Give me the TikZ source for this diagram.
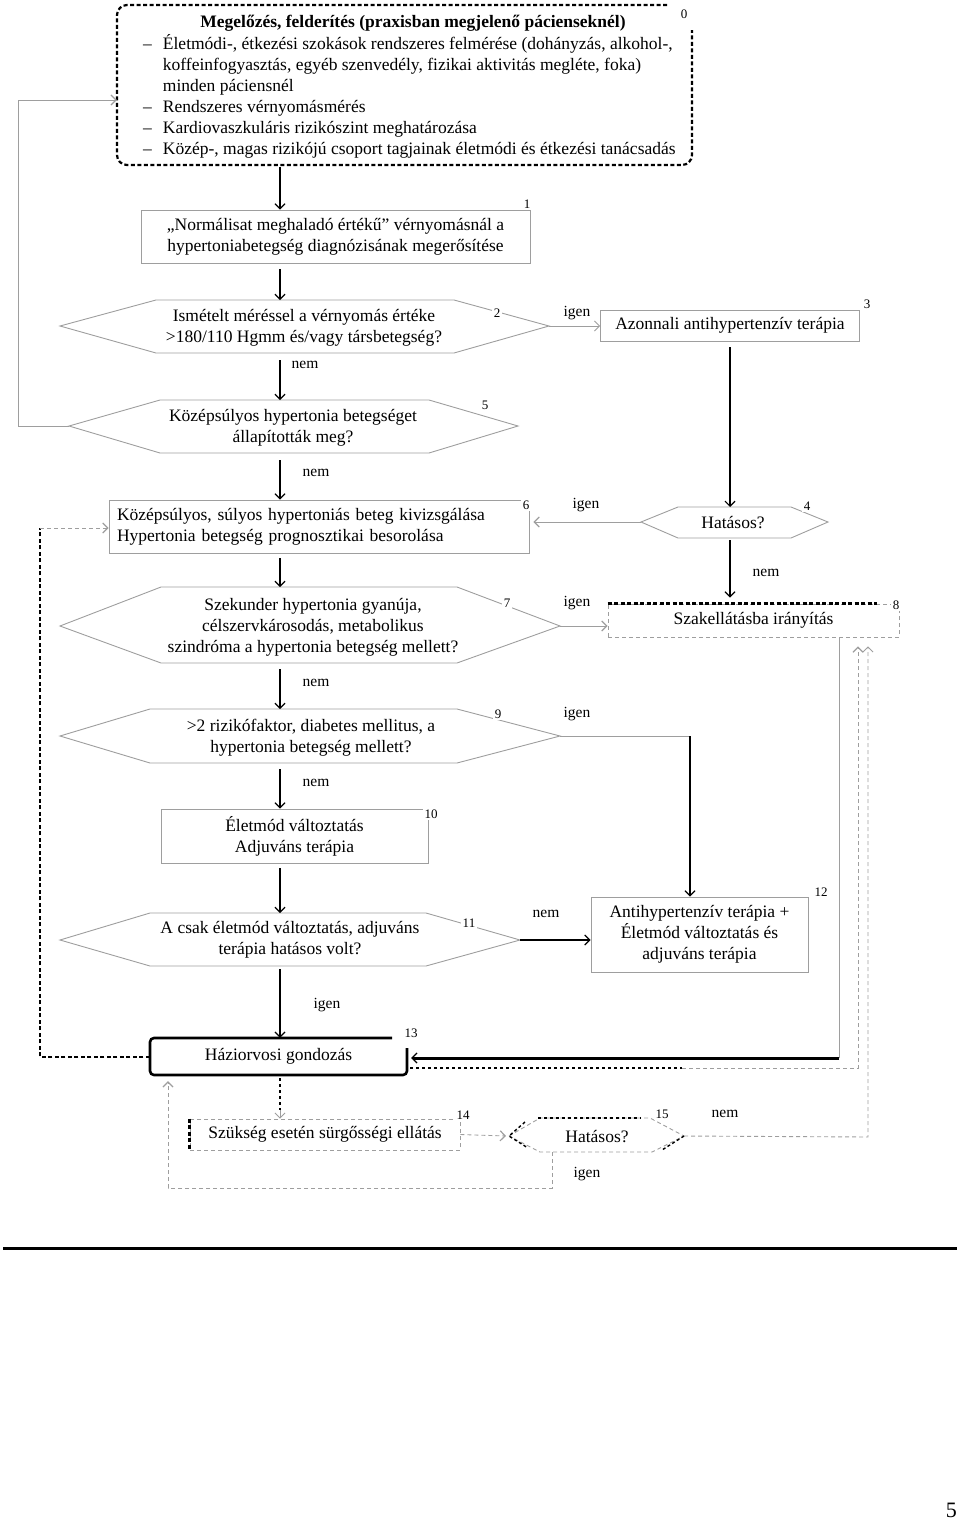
\documentclass[tikz,border=0pt]{standalone}
\usepackage{fontspec}
\setmainfont{Liberation Serif}
\usetikzlibrary{arrows.meta}
\definecolor{lg}{gray}{0.62}
\begin{document}
\begin{tikzpicture}[x=1pt,y=-1pt,
  txt/.style={font=\fontsize{17.5}{21}\selectfont, inner sep=0pt, align=center},
  num/.style={font=\fontsize{13}{13}\selectfont, fill=white, inner sep=2pt},
  lab/.style={font=\fontsize{15.5}{16}\selectfont, inner sep=0pt},
  gbox/.style={draw=lg, line width=0.9pt},
  gline/.style={draw=lg, line width=0.9pt},
  thk/.style={draw=black, line width=2.2pt},
  thn/.style={draw=lg, line width=0.9pt},
  gdash/.style={draw=lg, line width=0.9pt, dash pattern=on 4pt off 3pt},
  kdash/.style={draw=black, line width=2.4pt, dash pattern=on 4pt off 2.5pt},
  kdot/.style={draw=black, line width=2.4pt, dash pattern=on 3pt off 3pt},
  tipk/.style={-{Straight Barb[length=5pt,width=10pt,line width=1.2pt]}},
  tipg/.style={-{Straight Barb[length=5pt,width=10pt,line width=0.9pt,color=lg]}},
]
\useasboundingbox (0,0) rectangle (960,1523);
\coordinate (mx) at (280,0);

% ---------- box 0 ----------
\node[minimum width=575pt, minimum height=160pt, inner sep=0pt] (b0) at (404.5,85) {};
\draw[kdash, line width=2.2pt, rounded corners=10pt] (667,5) -- (117,5) -- (117,165) -- (692,165) -- (692,30);
\node[txt, font={\fontsize{17.5}{21}\selectfont\bfseries}] (t0) at (413,23) {Megelőzés, felderítés (praxisban megjelenő pácienseknél)};
\node[txt, anchor=north west, align=left] (l0) at (143,34.5) {\begin{tabular}{@{}l@{\hspace{11pt}}l@{}}
–&Életmódi-, étkezési szokások rendszeres felmérése (dohányzás, alkohol-,\\
 &koffeinfogyasztás, egyéb szenvedély, fizikai aktivitás megléte, foka)\\
 &minden páciensnél\\
–&Rendszeres vérnyomásmérés\\
–&Kardiovaszkuláris rizikószint meghatározása\\
–&Közép-, magas rizikójú csoport tagjainak életmódi és étkezési tanácsadás
\end{tabular}};

% ---------- boxes ----------
\node[gbox, txt, minimum width=389pt, minimum height=53pt] (b1) at (335.5,236.5) {„Normálisat meghaladó értékű” vérnyomásnál a\\hypertoniabetegség diagnózisának megerősítése};
\node[gbox, txt, minimum width=259pt, minimum height=31pt] (b3) at (730,325.5) {Azonnali antihypertenzív terápia};
\node[gbox, txt, minimum width=420pt, minimum height=53pt, text width=404pt, align=left] (b6) at (319,526.5) {Középsúlyos, súlyos hypertoniás beteg kivizsgálása\\Hypertonia betegség prognosztikai besorolása};
\node[gbox, draw=lg, dash pattern=on 4pt off 3pt, txt, minimum width=291pt, minimum height=33pt] (b8) at (753.5,620.5) {Szakellátásba irányítás};
\draw[kdash, line width=2.6pt] (b8.north west) -- ([xshift=-22pt]b8.north east);
\node[gbox, txt, minimum width=267pt, minimum height=54pt] (b10) at (294.5,836) {Életmód változtatás\\Adjuváns terápia};
\node[gbox, txt, minimum width=217pt, minimum height=75pt] (b12) at (699.5,934.5) {Antihypertenzív terápia +\\Életmód változtatás és\\adjuváns terápia};
\node[txt, minimum width=257pt, minimum height=37pt] (b13) at (278.5,1056.5) {Háziorvosi gondozás};
\draw[line width=2.6pt, rounded corners=4pt] (392,1038) -- (150,1038) -- (150,1075) -- (407,1075) -- (407,1048);
\node[gbox, dash pattern=on 4pt off 3pt, txt, minimum width=270pt, minimum height=31pt] (b14) at (325,1134.5) {Szükség esetén sürgősségi ellátás};
\draw[kdash] (b14.north west) -- (b14.south west);

% ---------- hexagons ----------
\draw[gline] (60,326) coordinate (h2L) -- (156,300) -- (454,300) -- (549,326) coordinate (h2R) -- (454,353) -- (156,353) -- cycle;
\coordinate (h2T) at (280,300); \coordinate (h2B) at (280,353);
\node[txt] (h2) at (304,328) {Ismételt méréssel a vérnyomás értéke\\>180/110 Hgmm és/vagy társbetegség?};

\draw[gline] (69,426) coordinate (h5L) -- (160,400) -- (429,400) -- (518,426) -- (429,453) -- (160,453) -- cycle;
\coordinate (h5T) at (280,400); \coordinate (h5B) at (280,453);
\node[txt] (h5) at (293,428) {Középsúlyos hypertonia betegséget\\állapították meg?};

\draw[gline] (641,522) coordinate (h4L) -- (678,507) -- (791,507) -- (828,522) -- (791,538) -- (678,538) -- cycle;
\coordinate (h4T) at (730,507); \coordinate (h4B) at (730,538);
\node[txt] (h4) at (733,523) {Hatásos?};

\draw[gline] (60,626) coordinate (h7L) -- (161,587) -- (457,587) -- (560,626) coordinate (h7R) -- (457,663) -- (161,663) -- cycle;
\coordinate (h7T) at (280,587); \coordinate (h7B) at (280,663);
\node[txt] (h7) at (313,627) {Szekunder hypertonia gyanúja,\\célszervkárosodás, metabolikus\\szindróma a hypertonia betegség mellett?};

\draw[gline] (60,736) coordinate (h9L) -- (150,709) -- (457,709) -- (560,736) coordinate (h9R) -- (457,763) -- (150,763) -- cycle;
\coordinate (h9T) at (280,709); \coordinate (h9B) at (280,763);
\node[txt] (h9) at (311,738) {>2 rizikófaktor, diabetes mellitus, a\\hypertonia betegség mellett?};

\draw[gline] (60,940) coordinate (h11L) -- (150,913) -- (426,913) -- (520,940) coordinate (h11R) -- (426,966) -- (150,966) -- cycle;
\coordinate (h11T) at (280,913); \coordinate (h11B) at (280,966);
\node[txt] (h11) at (290,940) {A csak életmód változtatás, adjuváns\\terápia hatásos volt?};

\draw[gdash] (509,1136) coordinate (h15L) -- (540,1118) -- (650,1118) -- (684,1136) coordinate (h15R) -- (652,1152) -- (540,1152) -- cycle;
\draw[kdot] (538,1118) -- (641,1118);
\draw[draw=black, line width=1.4pt, dash pattern=on 3pt off 2.5pt] (525,1122) -- (h15L) -- (528,1148);
\draw[draw=black, line width=1.4pt, dash pattern=on 3pt off 2.5pt] (684,1136) -- (662,1150);
\coordinate (h15B) at (552,1152);
\node[txt] (h15) at (597,1137) {Hatásos?};

% ---------- connectors ----------
\draw[thk, tipk] ([yshift=-2pt]b0.south -| mx) -- (b1.north -| mx);
\draw[thk, tipk] ([yshift=-6pt]b1.south -| mx) -- (h2T);
\draw[thn, tipg] (h2R) -- (b3.west |- h2R);
\draw[thk, tipk] ([yshift=-6pt]b3.south) -- (h4T);
\draw[thk, tipk] ([yshift=-7pt]h2B) -- (h5T);
\coordinate (fb) at (18,100);
\draw[thn, tipk] (h5L) -| (fb) -- (b0.west |- fb);
\draw[thk, tipk] ([yshift=-7pt]h5B) -- (b6.north -| mx);
\draw[thn, tipk] (h4L) -- ([xshift=4pt]b6.east |- h4L);
\draw[thk, tipk] ([yshift=-2pt]h4B) -- ([yshift=6pt]b8.north -| h4B);
\draw[thk, tipk] ([yshift=-5pt]b6.south -| mx) -- (h7T);
\draw[thn, tipk] (h7R) -- (b8.west |- h7R);
\draw[thk, tipk] ([yshift=-6pt]h7B) -- (h9T);
\coordinate (c9) at (690,736);
\draw[thn] (h9R) -- (c9);
\draw[thk, tipk] (c9) -- (c9 |- b12.north);
\draw[thk, tipk] ([yshift=-6pt]h9B) -- (b10.north -| mx);
\draw[thk, tipk] ([yshift=-5pt]b10.south -| mx) -- (h11T);
\draw[thk, tipk] (h11R) -- (b12.west |- h11R);
\draw[thk, tipk] ([yshift=-3pt]h11B) -- (b13.north -| mx);
\coordinate (c8) at (839,1058);
\draw[thn] (b8.south -| c8) -- (c8);
\draw[thk, line width=3pt, tipk] (c8) -- ([xshift=4pt]b13.east |- c8);
\coordinate (r1) at (410,1068); \coordinate (r2) at (682,1068); \coordinate (r3) at (858,1068);
\coordinate (b8s) at ([yshift=-9pt]b8.south);
\draw[kdot] (r1) -- (r2);
\draw[gdash, tipk] (r2) -- (r3) -- (r3 |- b8s);
\coordinate (c15) at (868,1137);
\draw[gdash, tipg] (h15R) -- (c15) -- (c15 |- b8s);
\coordinate (c13) at (40,1057); \coordinate (c6) at (40,528);
\draw[kdash] (b13.west |- c13) -- (c13) -- (c6);
\draw[gdash, tipk] (c6) -- (b6.west |- c6);
\coordinate (c14) at (280,1110);
\draw[kdot] ([yshift=-3pt]b13.south -| mx) -- (c14);
\draw[thn, tipg] (c14) -- (b14.north -| mx);
\draw[gdash, tipk] (b14.east) -- ([xshift=-3pt]h15L);
\coordinate (c16) at (552,1188); \coordinate (c17) at (168,1188);
\draw[gdash, tipk] (h15B) -- (c16) -- (c17) -- ([yshift=-6pt]b13.south -| c17);

% ---------- yes / no labels ----------
\node[lab] (n1) at (305,365) {nem};
\node[lab] (y1) at (577,313) {igen};
\node[lab] (n2) at (316,473) {nem};
\node[lab] (y2) at (586,505) {igen};
\node[lab] (n3) at (766,573) {nem};
\node[lab] (y3) at (577,603) {igen};
\node[lab] (n4) at (316,683) {nem};
\node[lab] (y4) at (577,714) {igen};
\node[lab] (n5) at (316,783) {nem};
\node[lab] (n6) at (546,914) {nem};
\node[lab] (y5) at (327,1005) {igen};
\node[lab] (n7) at (725,1114) {nem};
\node[lab] (y6) at (587,1174) {igen};

% ---------- number labels ----------
\node[num] (k0) at (684,14) {0};
\node[num] (k1) at (527,204) {1};
\node[num] (k2) at (497,313) {2};
\node[num] (k3) at (867,304) {3};
\node[num] (k4) at (807,506) {4};
\node[num] (k5) at (485,405) {5};
\node[num] (k6) at (526,505) {6};
\node[num] (k7) at (507,603) {7};
\node[num] (k8) at (896,605) {8};
\node[num] (k9) at (498,714) {9};
\node[num] (k10) at (431,814) {10};
\node[num] (k11) at (469,923) {11};
\node[num] (k12) at (821,892) {12};
\node[num] (k13) at (411,1033) {13};
\node[num] (k14) at (463,1115) {14};
\node[num] (k15) at (662,1114) {15};

% ---------- page rule and number ----------
\draw[line width=3pt] (3,1248) -- (957,1248);
\node[font=\fontsize{22}{22}\selectfont, anchor=south east, inner sep=0pt] (pg) at (957,1518) {5};
\end{tikzpicture}
\end{document}
